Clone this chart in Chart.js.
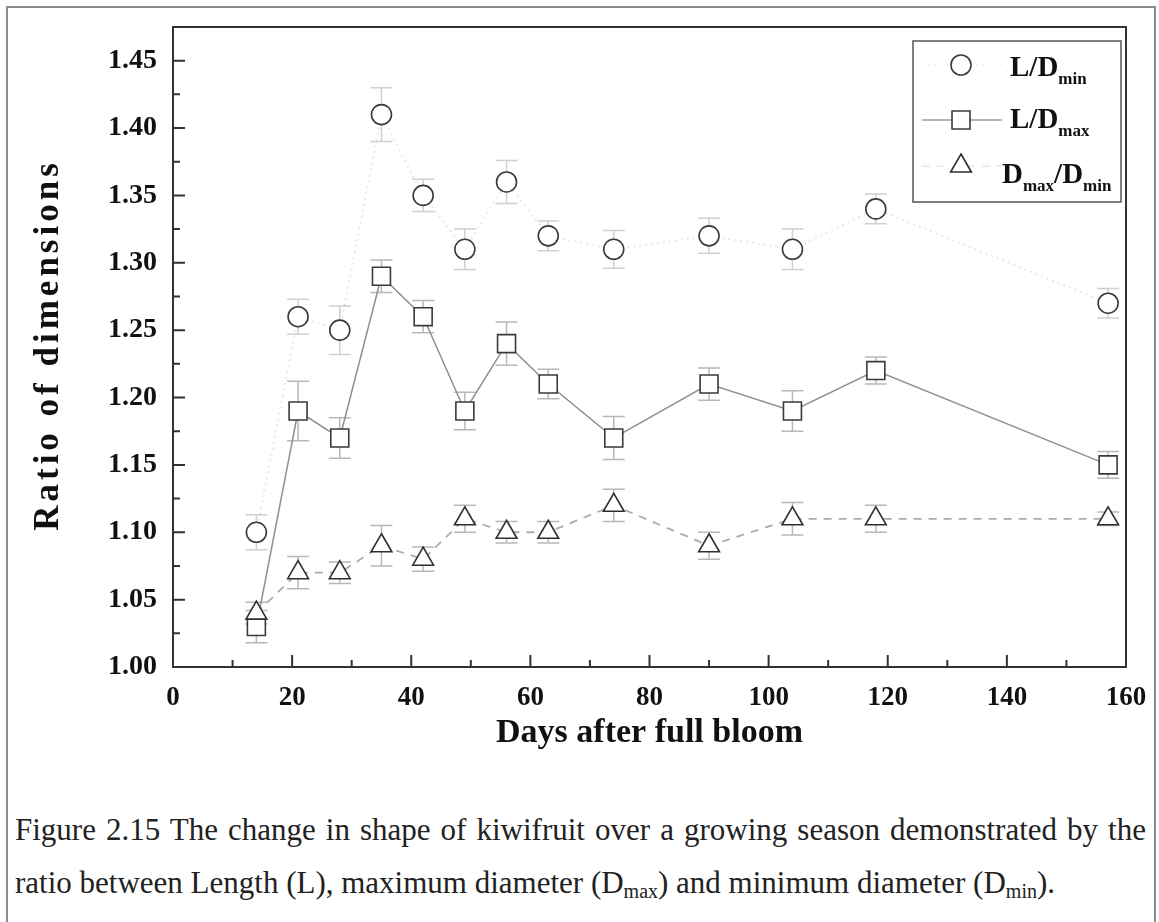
<!DOCTYPE html>
<html>
<head>
<meta charset="utf-8">
<title>Kiwifruit shape ratios</title>
<script src="https://cdn.jsdelivr.net/npm/chart.js@4.4.1/dist/chart.umd.min.js"></script>
<style>
    html, body { margin: 0; padding: 0; background: #fff; }
    #page { position: relative; width: 1159px; height: 922px; overflow: hidden; background: #fff; }
    #frame {
        position: absolute; left: 6px; top: 6px; width: 1150px; height: 960px;
        border: 2px solid #8c8c8c; box-sizing: border-box;
    }
    #chart-wrap { position: absolute; left: 0; top: 0; width: 1159px; height: 780px; }
    #caption {
        position: absolute; left: 15px; top: 803px; width: 1131px;
        font-family: "Liberation Serif", "Times New Roman", serif;
        font-size: 31px; line-height: 53px; color: #222;
    }
    #caption .line1 { text-align: justify; text-align-last: justify; white-space: nowrap; }
    #caption sub { font-size: 20px; vertical-align: -5px; line-height: 0; }
</style>
</head>
<body>
<div id="page">
    <div id="frame"></div>
    <div id="chart-wrap"><canvas id="shapeChart" width="1159" height="780"></canvas></div>
    <div id="caption">
        <div class="line1">Figure 2.15 The change in shape of kiwifruit over a growing season demonstrated by the</div>
        <div>ratio between Length (L), maximum diameter (D<sub>max</sub>) and minimum diameter (D<sub>min</sub>).</div>
    </div>
</div>
<script>
// Sampling days and the three shape ratios (mean and standard error)
const days = [14, 21, 28, 35, 42, 49, 56, 63, 74, 90, 104, 118, 157];

const ldMin = [1.10, 1.26, 1.25, 1.41, 1.35, 1.31, 1.36, 1.32, 1.31, 1.32, 1.31, 1.34, 1.27];
const ldMinErr = [0.013, 0.013, 0.018, 0.02, 0.012, 0.015, 0.016, 0.011, 0.014, 0.013, 0.015, 0.011, 0.011];

const ldMax = [1.03, 1.19, 1.17, 1.29, 1.26, 1.19, 1.24, 1.21, 1.17, 1.21, 1.19, 1.22, 1.15];
const ldMaxErr = [0.012, 0.022, 0.015, 0.012, 0.012, 0.014, 0.016, 0.011, 0.016, 0.012, 0.015, 0.01, 0.01];

const dRatio = [1.04, 1.07, 1.07, 1.09, 1.08, 1.11, 1.10, 1.10, 1.12, 1.09, 1.11, 1.11, 1.11];
const dRatioErr = [0.008, 0.012, 0.008, 0.015, 0.009, 0.01, 0.008, 0.008, 0.012, 0.01, 0.012, 0.01, 0.005];

const xTicks = [0, 20, 40, 60, 80, 100, 120, 140, 160];
const yTicks = [1.00, 1.05, 1.10, 1.15, 1.20, 1.25, 1.30, 1.35, 1.40, 1.45];

const yTitle = 'Ratio of dimensions';

// legend text pieces: [text, isSubscript]
const legendLabels = [
    [['L/D', false], ['min', true]],
    [['L/D', false], ['max', true]],
    [['D', false], ['max', true], ['/D', false], ['min', true]]
];

const SERIF = '"Liberation Serif", "Times New Roman", serif';
const AXIS_COLOR = '#333';

function toPoints(values) {
    return values.map((v, i) => ({ x: days[i], y: v }));
}

// vertical error bars with caps, drawn under the markers
const errorBars = {
    id: 'errorBars',
    beforeDatasetsDraw(chart) {
        const { ctx, scales: { x, y } } = chart;
        ctx.save();
        chart.data.datasets.forEach(ds => {
            ctx.strokeStyle = ds.errorColor;
            ctx.lineWidth = 1.5;
            ds.data.forEach((p, i) => {
                const e = ds.errors[i];
                const px = x.getPixelForValue(p.x);
                const top = y.getPixelForValue(p.y + e);
                const bot = y.getPixelForValue(p.y - e);
                ctx.beginPath();
                ctx.moveTo(px, top); ctx.lineTo(px, bot);
                ctx.moveTo(px - 11, top); ctx.lineTo(px + 11, top);
                ctx.moveTo(px - 11, bot); ctx.lineTo(px + 11, bot);
                ctx.stroke();
            });
        });
        ctx.restore();
    }
};

// box around the plot area, inward major/minor tick marks and the spaced y title
const frameTicks = {
    id: 'frameTicks',
    afterDatasetsDraw(chart) {
        const { ctx, chartArea: a, scales: { x, y } } = chart;
        ctx.save();
        ctx.strokeStyle = AXIS_COLOR;
        ctx.lineWidth = 2;
        ctx.strokeRect(a.left, a.top, a.right - a.left, a.bottom - a.top);
        ctx.beginPath();
        x.ticks.forEach((t, i) => {
            const px = x.getPixelForValue(t.value);
            ctx.moveTo(px, a.bottom); ctx.lineTo(px, a.bottom - 12);
            if (i < x.ticks.length - 1) {
                const m = x.getPixelForValue((t.value + x.ticks[i + 1].value) / 2);
                ctx.moveTo(m, a.bottom); ctx.lineTo(m, a.bottom - 7);
            }
        });
        y.ticks.forEach((t, i) => {
            const py = y.getPixelForValue(t.value);
            ctx.moveTo(a.left, py); ctx.lineTo(a.left + 12, py);
            if (i < y.ticks.length - 1) {
                const m = y.getPixelForValue((t.value + y.ticks[i + 1].value) / 2);
                ctx.moveTo(a.left, m); ctx.lineTo(a.left + 7, m);
            }
        });
        ctx.stroke();

        // rotated axis title, letter-spaced
        ctx.translate(58, (a.top + a.bottom) / 2);
        ctx.rotate(-Math.PI / 2);
        ctx.font = `bold 35px ${SERIF}`;
        ctx.fillStyle = '#111';
        ctx.textAlign = 'center';
        ctx.textBaseline = 'alphabetic';
        ctx.letterSpacing = '4px';
        ctx.fillText(yTitle, 2, 0);
        ctx.restore();
    }
};

// boxed legend in the top-right corner, with subscripted labels
const boxLegend = {
    id: 'boxLegend',
    afterDraw(chart) {
        const { ctx, chartArea: a } = chart;
        const left = a.right - 213, top = a.top + 14, w = 208, h = 161;
        const rowY = [24, 79, 125];
        const textX = [97, 97, 89];
        const baseY = [35, 87, 142];
        ctx.save();
        ctx.fillStyle = '#fff';
        ctx.fillRect(left, top, w, h);
        ctx.strokeStyle = '#555';
        ctx.lineWidth = 1.5;
        ctx.strokeRect(left, top, w, h);

        chart.data.datasets.forEach((ds, i) => {
            const cx = left + 48, cy = top + rowY[i];
            ctx.save();
            ctx.strokeStyle = ds.legendLineColor;
            ctx.lineWidth = ds.borderWidth;
            ctx.setLineDash(ds.borderDash || []);
            ctx.beginPath();
            ctx.moveTo(left + 9, cy); ctx.lineTo(left + 89, cy);
            ctx.stroke();
            ctx.restore();
            ctx.fillStyle = '#fff';
            ctx.strokeStyle = ds.pointBorderColor;
            ctx.lineWidth = ds.pointBorderWidth;
            Chart.helpers.drawPoint(ctx, { pointStyle: ds.pointStyle, radius: ds.pointRadius, borderWidth: ds.pointBorderWidth }, cx, cy);

            let tx = left + textX[i];
            const by = top + baseY[i];
            ctx.fillStyle = '#111';
            ctx.textBaseline = 'alphabetic';
            legendLabels[i].forEach(([txt, sub]) => {
                ctx.font = sub ? `bold 17px ${SERIF}` : `bold 29px ${SERIF}`;
                ctx.fillText(txt, tx, sub ? by + 8 : by);
                tx += ctx.measureText(txt).width;
            });
        });
        ctx.restore();
    }
};

const ctx = document.getElementById('shapeChart');

new Chart(ctx, {
    type: 'line',
    data: {
        datasets: [
            {
                label: 'L/Dmin',
                data: toPoints(ldMin),
                errors: ldMinErr,
                errorColor: '#d0d0d0',
                borderColor: 'rgba(0,0,0,0.09)',
                legendLineColor: 'rgba(0,0,0,0.04)',
                borderWidth: 2,
                borderDash: [2, 4],
                pointStyle: 'circle',
                pointRadius: 10,
                pointBorderColor: '#3a3a3a',
                pointBorderWidth: 1.6,
                pointBackgroundColor: '#fff',
                order: 2
            },
            {
                label: 'L/Dmax',
                data: toPoints(ldMax),
                errors: ldMaxErr,
                errorColor: '#b8b8b8',
                borderColor: '#8f8f8f',
                legendLineColor: '#9a9a9a',
                borderWidth: 1.5,
                pointStyle: 'rect',
                pointRadius: 12.7,
                pointBorderColor: '#3a3a3a',
                pointBorderWidth: 1.6,
                pointBackgroundColor: '#fff',
                order: 1
            },
            {
                label: 'Dmax/Dmin',
                data: toPoints(dRatio),
                errors: dRatioErr,
                errorColor: '#b8b8b8',
                borderColor: '#ababab',
                legendLineColor: 'rgba(0,0,0,0.07)',
                borderWidth: 1.8,
                borderDash: [8, 7],
                pointStyle: 'triangle',
                pointRadius: 12,
                pointBorderColor: '#2f2f2f',
                pointBorderWidth: 1.6,
                pointBackgroundColor: '#fff',
                order: 0
            }
        ]
    },
    options: {
        responsive: false,
        animation: false,
        devicePixelRatio: 1,
        layout: { padding: { left: 0, top: 27, right: 33, bottom: 0 } },
        plugins: {
            legend: { display: false },
            tooltip: { enabled: false }
        },
        elements: { line: { tension: 0 } },
        scales: {
            x: {
                type: 'linear',
                min: 0,
                max: 160,
                afterBuildTicks: s => { s.ticks = xTicks.map(v => ({ value: v })); },
                afterFit: s => { s.height = 113; s.paddingLeft = 0; s.paddingRight = 0; },
                grid: { display: false, drawTicks: false },
                border: { display: false },
                ticks: {
                    padding: 15,
                    color: '#111',
                    font: { family: SERIF, weight: 'bold', size: 27 },
                    maxRotation: 0
                },
                title: {
                    display: true,
                    text: 'Days after full bloom',
                    color: '#111',
                    font: { family: SERIF, weight: 'bold', size: 34 },
                    padding: { top: 0, bottom: 26 }
                }
            },
            y: {
                type: 'linear',
                min: 1.00,
                max: 1.475,
                afterBuildTicks: s => { s.ticks = yTicks.map(v => ({ value: v })); },
                afterFit: s => { s.width = 173; s.paddingTop = 0; s.paddingBottom = 0; },
                grid: { display: false, drawTicks: false },
                border: { display: false },
                ticks: {
                    padding: 16,
                    color: '#111',
                    font: { family: SERIF, weight: 'bold', size: 28 },
                    callback: v => v.toFixed(2)
                },
                title: { display: false }
            }
        }
    },
    plugins: [errorBars, frameTicks, boxLegend]
});
</script>
</body>
</html>
